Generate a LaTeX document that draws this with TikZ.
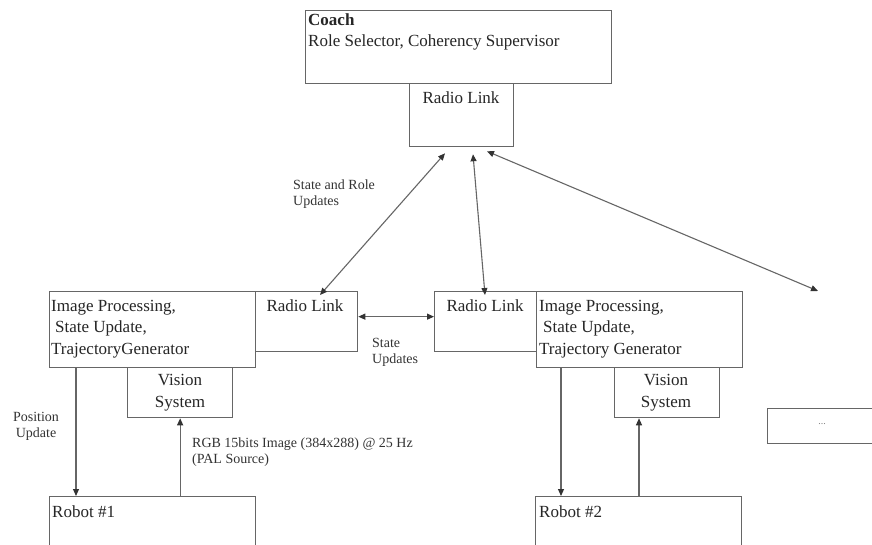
\documentclass[tikz,border=0pt]{standalone}
\usepackage{fontspec}
\setmainfont{Liberation Serif}
\usetikzlibrary{arrows.meta,calc}
\begin{document}
\begin{tikzpicture}[x=1pt,y=-1pt,
  box/.style={draw=black!60,line width=1.3pt,inner sep=0pt,anchor=north west},
  big/.style={font=\fontsize{17}{21.5}\selectfont,text=black!85,inner sep=0pt,align=left},
  small/.style={font=\fontsize{14}{16}\selectfont,text=black!80,inner sep=0pt,align=left},
  tip/.tip={Triangle[length=7pt,width=6pt,color=black!80]},
  arr/.style={draw=black!60,line width=1.1pt,-tip},
  biarr/.style={draw=black!60,line width=1.1pt,tip-tip}
]
\useasboundingbox (0,0) rectangle (872,545);
\fill[white] (0,0) rectangle (872,545);

% boxes
\node[box,minimum width=306pt,minimum height=73pt] (coach) at (305,10) {};
\node[box,minimum width=104pt,minimum height=63pt] (radioC) at (409,83) {};
\node[box,minimum width=206pt,minimum height=76pt] (ip1) at (49,291) {};
\node[box,minimum width=102pt,minimum height=60pt] (rl1) at (255,291) {};
\node[box,minimum width=105pt,minimum height=50pt] (vis1) at (127,367) {};
\node[box,minimum width=102pt,minimum height=60pt] (rl2) at (434,291) {};
\node[box,minimum width=206pt,minimum height=76pt] (ip2) at (536,291) {};
\node[box,minimum width=105pt,minimum height=50pt] (vis2) at (614,367) {};
\node[box,minimum width=206pt,minimum height=70pt] (robot1) at (49,496) {};
\node[box,minimum width=206pt,minimum height=70pt] (robot2) at (535,496) {};
\node[box,minimum width=120pt,minimum height=35pt] (dots) at (767,408) {};

% box texts (anchor = baseline of last line)
\node[big,anchor=base west] (tcoach) at (308,26) {\textbf{Coach}};
\node[big,anchor=base west] (trole) at (308,47) {Role Selector, Coherency Supervisor};
\node[big,anchor=base] (tradioC) at (461,104) {Radio Link};
\node[big,anchor=base west] (tip1) at (51,354) {Image Processing,\\\hspace{4pt}State Update,\\TrajectoryGenerator};
\node[big,anchor=base] (trl1) at (305,311) {Radio Link};
\node[big,anchor=base,align=center] (tvis1) at (180,407) {Vision\\System};
\node[big,anchor=base] (trl2) at (485,311) {Radio Link};
\node[big,anchor=base west] (tip2) at (539,354) {Image Processing,\\\hspace{4pt}State Update,\\Trajectory Generator};
\node[big,anchor=base,align=center] (tvis2) at (666,407) {Vision\\System};
\node[big,anchor=base west] (trob1) at (52,517) {Robot \#1};
\node[big,anchor=base west] (trob2) at (539,517) {Robot \#2};
\node[font=\fontsize{10}{12}\selectfont,text=black!50,inner sep=0pt] (tdots) at (822,424) {...};

% labels
\node[small,anchor=base west] (lsr) at (293,206) {State and Role\\Updates};
\node[small,anchor=base west] (lsu) at (372,363) {State\\Updates};
\node[small,anchor=base,align=center] (lpu) at (36,437) {Position\\Update};
\node[small,anchor=base west] (lrgb) at (192,463) {RGB 15bits Image (384x288) @ 25 Hz\\(PAL Source)};

% connectors
\coordinate (far) at (818,291);
\draw[biarr] ([xshift=65pt,yshift=-4pt]rl1.north west) -- ([xshift=36pt,yshift=-6pt]radioC.south west);
\draw[biarr] ([xshift=51pt,yshift=-4pt]rl2.north west) -- ([xshift=64pt,yshift=-7pt]radioC.south west);
\draw[biarr] (far) -- ([xshift=78pt,yshift=-4pt]radioC.south west);
\draw[biarr] ([yshift=5pt]rl1.east) -- ([yshift=5pt]rl2.west);
\draw[arr] ([xshift=27pt]ip1.south west) -- ([xshift=27pt]robot1.north west);
\draw[arr] (vis1.south |- robot1.north) -- (vis1.south);
\draw[arr] ([xshift=25pt]ip2.south west) -- ([xshift=26pt]robot2.north west);
\draw[arr] ([xshift=25pt]vis2.south west |- robot2.north) -- ([xshift=25pt]vis2.south west);
\end{tikzpicture}
\end{document}
